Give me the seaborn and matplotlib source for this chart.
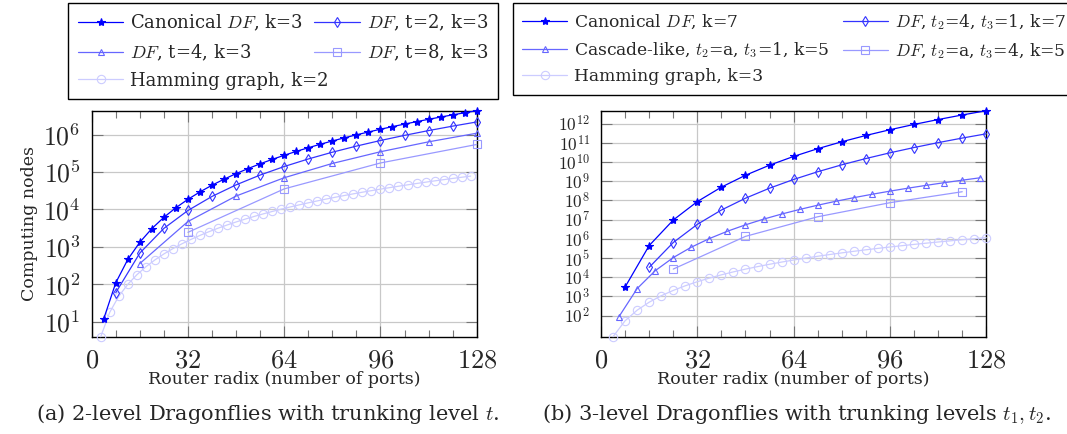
import numpy as np
import matplotlib
matplotlib.use('Agg')
import matplotlib.pyplot as plt
import seaborn as sns
from matplotlib.ticker import FixedLocator, MultipleLocator, FuncFormatter, NullLocator

# ---- (a) 2-level dragonflies ----
canon2_x = [4, 8, 12, 16, 20, 24, 28, 32, 36, 40, 44, 48, 52, 56, 60, 64,
            68, 72, 76, 80, 84, 88, 92, 96, 100, 104, 108, 112, 116, 120, 124, 128]
canon2_y = [12, 110, 462, 1332, 3080, 6162, 11130, 18632, 29412, 44310, 64262, 90300,
            123552, 165242, 216690, 279312, 354620, 444222, 549822, 673220, 816312,
            981090, 1169642, 1384152, 1626900, 1900262, 2206710, 2548812, 2929232,
            3350730, 3816162, 4328480]
t2_x = [8, 16, 24, 32, 40, 48, 56, 64, 72, 80, 88, 96, 104, 112, 120, 128]
t2_y = [60, 684, 3120, 9384, 22260, 45300, 82824, 139920, 222444, 337020, 491040,
        692664, 950820, 1275204, 1676280, 2165280]
t4_x = [16, 32, 48, 64, 80, 96, 112, 128]
t4_y = [360, 4760, 22800, 70224, 168920, 346920, 638400, 1083680]
t8_x = [32, 64, 96, 128]
t8_y = [2448, 35376, 174048, 542880]
ham2_x = [3, 6, 9, 12, 15, 18, 21, 24, 27, 30, 33, 36, 39, 42, 45, 48, 51, 54, 57, 60, 63,
          66, 69, 72, 75, 78, 81, 84, 87, 90, 93, 96, 99, 102, 105, 108, 111, 114, 117,
          120, 123, 126]
ham2_y = [4, 18, 48, 100, 180, 294, 448, 648, 900, 1210, 1584, 2028, 2548, 3150, 3840,
          4624, 5508, 6498, 7600, 8820, 10164, 11638, 13248, 15000, 16900, 18954, 21168,
          23548, 26100, 28830, 31744, 34848, 38148, 41650, 45360, 49284, 53428, 57798,
          62400, 67240, 72324, 77658]

# ---- (b) 3-level dragonflies ----
canon3_x = [8, 16, 24, 32, 40, 48, 56, 64, 72, 80, 88, 96, 104, 112, 120, 128]
canon3_y = [3080, 444222, 9495642, 86797172, 4.909e8, 2.039e9, 6.826e9, 1.950e10,
            4.933e10, 1.133e11, 2.406e11, 4.790e11, 9.027e11, 1.624e12, 2.807e12, 4.684e12]
dft24_x = [16, 24, 32, 40, 48, 56, 64, 72, 80, 88, 96, 104, 112, 120, 128]
dft24_y = [32580, 640000, 5667000, 3.156e7, 1.300e8, 4.330e8, 1.233e9, 3.111e9,
           7.134e9, 1.513e10, 3.009e10, 5.667e10, 1.019e11, 1.760e11, 2.936e11]
casc_x = [6, 12, 18, 24, 30, 36, 42, 48, 54, 60, 66, 72, 78, 84, 90, 96, 102, 108,
          114, 120, 126]
casc_y = [90, 2550, 21756, 105300, 366630, 1029210, 2482200, 5347656, 10559250,
          19452510, 33866580, 56257500, 89823006, 138638850, 207806640, 303613200,
          433701450, 607252806, 835181100, 1130338020, 1507730070]
dft34_x = [24, 48, 72, 96, 120]
dft34_y = [26568, 1338648, 14070000, 75916368, 282609720]
ham3_x = [4, 8, 12, 16, 20, 24, 28, 32, 36, 40, 44, 48, 52, 56, 60, 64, 68, 72, 76, 80,
          84, 88, 92, 96, 100, 104, 108, 112, 116, 120, 124, 128]
ham3_y = [8, 54, 192, 500, 1080, 2058, 3584, 5832, 9000, 13310, 19008, 26364, 35672,
          47250, 61440, 78608, 99144, 123462, 152000, 185220, 223608, 267674, 317952,
          375000, 439400, 511758, 592704, 682892, 783000, 893730, 1015808, 1149984]

labels_a = ['Canonical $DF$, k=3', '$DF$, t=2, k=3', '$DF$, t=4, k=3',
            '$DF$, t=8, k=3', 'Hamming graph, k=2']
labels_b = ['Canonical $DF$, k=7', '$DF$, $t_2$=4, $t_3$=1, k=7',
            'Cascade-like, $t_2$=a, $t_3$=1, k=5', '$DF$, $t_2$=a, $t_3$=4, k=5',
            'Hamming graph, k=3']
decades_a = [1e1, 1e2, 1e3, 1e4, 1e5, 1e6]
decades_b = [1e2, 1e3, 1e4, 1e5, 1e6, 1e7, 1e8, 1e9, 1e10, 1e11, 1e12]

COLORS = ['#0000ff', '#3333ff', '#6666ff', '#9999ff', '#ccccff']
MARKERS = [('*', 6), ('d', 5), ('^', 5), ('s', 6), ('o', 6)]

sns.set_theme(style='white')
plt.rcParams['font.family'] = ['DejaVu Serif']
plt.rcParams['mathtext.fontset'] = 'cm'

fig = plt.figure(figsize=(10.67, 4.34), dpi=100)
ax_a = fig.add_axes([91.7 / 1067, 97.3 / 434, 385 / 1067, 226 / 434])
ax_b = fig.add_axes([601 / 1067, 97.3 / 434, 385.3 / 1067, 226 / 434])


def draw(ax, series, labels, decades):
    for i, (x, y) in enumerate(series):
        m, ms = MARKERS[i]
        face = COLORS[i] if m == '*' else 'none'
        sns.lineplot(x=x, y=y, ax=ax, color=COLORS[i], marker=m, markersize=ms,
                     markerfacecolor=face, markeredgecolor=COLORS[i],
                     markeredgewidth=0.8, linewidth=0.9, label=labels[i],
                     clip_on=False, zorder=3 + (5 - i))
    ax.set_yscale('log')
    ax.set_xlim(0, 128)
    ymin = min(min(y) for _, y in series)
    ymax = max(max(y) for _, y in series)
    ax.set_ylim(ymin, ymax)
    ax.xaxis.set_major_locator(FixedLocator([0, 32, 64, 96, 128]))
    ax.xaxis.set_minor_locator(MultipleLocator(8))
    ax.xaxis.set_major_formatter(FuncFormatter(lambda v, p: f'${v:.0f}$'))
    ax.yaxis.set_major_locator(FixedLocator(decades))
    ax.yaxis.set_minor_locator(NullLocator())
    ax.yaxis.set_major_formatter(
        FuncFormatter(lambda v, p: f'$10^{{{int(round(np.log10(v)))}}}$'))
    ax.grid(True, which='major', color='#c8c8c8', linewidth=0.9)
    ax.set_axisbelow(True)
    ax.tick_params(which='both', direction='in', top=True, right=True,
                   bottom=True, left=True, color='#777777', width=0.8)
    ax.tick_params(which='major', length=8, pad=8)
    ax.tick_params(which='minor', length=5)
    ax.tick_params(axis='x', labelsize=19)
    for s in ax.spines.values():
        s.set_color('black')
        s.set_linewidth(1.0)
    ax.set_xlabel('Router radix (number of ports)', fontsize=12.5, labelpad=-1)
    ax.get_legend().remove()
    return ax.get_lines()


lines_a = draw(ax_a, [(canon2_x, canon2_y), (t2_x, t2_y), (t4_x, t4_y),
                      (t8_x, t8_y), (ham2_x, ham2_y)], labels_a, decades_a)
lines_b = draw(ax_b, [(canon3_x, canon3_y), (dft24_x, dft24_y), (casc_x, casc_y),
                      (dft34_x, dft34_y), (ham3_x, ham3_y)], labels_b, decades_b)
ax_a.tick_params(axis='y', labelsize=18.5)
ax_b.tick_params(axis='y', labelsize=12.5)
ax_a.set_ylabel('Computing nodes', fontsize=12.5, labelpad=4)

order = [0, 2, 4, 1, 3]
leg_style = dict(loc='upper left', ncol=2, borderaxespad=0, mode='expand',
                 handletextpad=0.4, labelspacing=0.5,
                 borderpad=0.55, frameon=True, fancybox=False, numpoints=1)
leg_a = fig.legend([lines_a[i] for i in order], [labels_a[i] for i in order],
                   columnspacing=1.0, fontsize=13, handlelength=2.5,
                   bbox_to_anchor=(68 / 1067, 1 - 99 / 434, 430 / 1067, 96 / 434),
                   **leg_style)
leg_b = fig.legend([lines_b[i] for i in order], [labels_b[i] for i in order],
                   columnspacing=0.4, fontsize=12.3, handlelength=2.6,
                   bbox_to_anchor=(513 / 1067, 1 - 99 / 434, 562 / 1067, 96 / 434),
                   **leg_style)
for leg in (leg_a, leg_b):
    leg.get_frame().set_edgecolor('black')
    leg.get_frame().set_linewidth(1.0)
    leg.get_frame().set_alpha(1)

fig.text(268 / 1067, 1 - 414 / 434, '(a) 2-level Dragonflies with trunking level $t$.',
         ha='center', va='center', fontsize=15)
fig.text(797 / 1067, 1 - 414 / 434,
         '(b) 3-level Dragonflies with trunking levels $t_1, t_2$.',
         ha='center', va='center', fontsize=15)

fig.savefig('out.png', dpi=100)
